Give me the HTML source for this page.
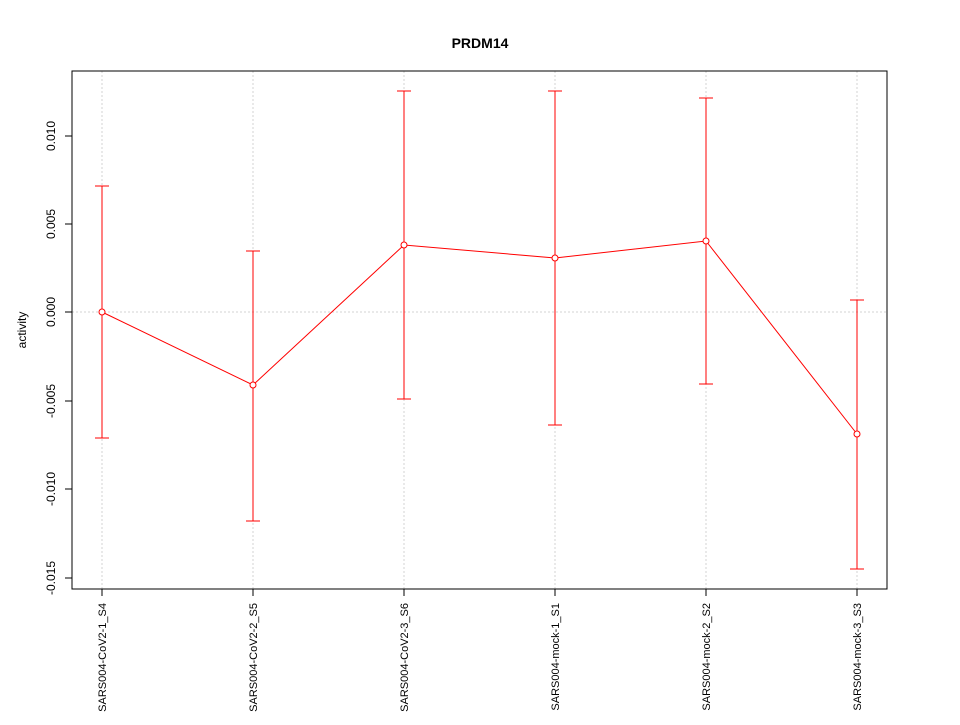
<!DOCTYPE html>
<html><head><meta charset="utf-8"><style>body{margin:0;background:#fff}</style></head>
<body>
<svg width="960" height="720" xmlns="http://www.w3.org/2000/svg" font-family="Liberation Sans, sans-serif">
<rect width="960" height="720" fill="#fff"/>
<text x="480" y="48" text-anchor="middle" font-weight="bold" font-size="14">PRDM14</text>
<g stroke="#d3d3d3" stroke-dasharray="2,2" stroke-width="1">
<line x1="102" y1="71" x2="102" y2="589"/><line x1="253" y1="71" x2="253" y2="589"/>
<line x1="404" y1="71" x2="404" y2="589"/><line x1="555" y1="71" x2="555" y2="589"/>
<line x1="706" y1="71" x2="706" y2="589"/><line x1="857" y1="71" x2="857" y2="589"/>
<line x1="72" y1="312" x2="887" y2="312"/>
</g>
<rect x="72" y="71" width="815" height="518" fill="none" stroke="#000"/>
<g stroke="#000">
<line x1="72" y1="136" x2="65" y2="136"/><line x1="72" y1="224" x2="65" y2="224"/>
<line x1="72" y1="312" x2="65" y2="312"/><line x1="72" y1="401" x2="65" y2="401"/>
<line x1="72" y1="489" x2="65" y2="489"/><line x1="72" y1="578" x2="65" y2="578"/>
<line x1="102" y1="589" x2="102" y2="596"/><line x1="253" y1="589" x2="253" y2="596"/>
<line x1="404" y1="589" x2="404" y2="596"/><line x1="555" y1="589" x2="555" y2="596"/>
<line x1="706" y1="589" x2="706" y2="596"/><line x1="857" y1="589" x2="857" y2="596"/>
</g>
<g font-size="12" text-anchor="middle">
<text transform="translate(55,136) rotate(-90)">0.010</text>
<text transform="translate(55,224) rotate(-90)">0.005</text>
<text transform="translate(55,312) rotate(-90)">0.000</text>
<text transform="translate(55,401) rotate(-90)">-0.005</text>
<text transform="translate(55,489) rotate(-90)">-0.010</text>
<text transform="translate(55,578) rotate(-90)">-0.015</text>
<text transform="translate(26,330) rotate(-90)">activity</text>
</g>
<g font-size="11" text-anchor="end">
<text transform="translate(106,603) rotate(-90)">SARS004-CoV2-1_S4</text>
<text transform="translate(257,603) rotate(-90)">SARS004-CoV2-2_S5</text>
<text transform="translate(408,603) rotate(-90)">SARS004-CoV2-3_S6</text>
<text transform="translate(559,603) rotate(-90)">SARS004-mock-1_S1</text>
<text transform="translate(710,603) rotate(-90)">SARS004-mock-2_S2</text>
<text transform="translate(861,603) rotate(-90)">SARS004-mock-3_S3</text>
</g>
<g stroke="#ff0000" fill="none" stroke-width="1">
<line x1="102" y1="186" x2="102" y2="438"/><line x1="95" y1="186" x2="109" y2="186"/><line x1="95" y1="438" x2="109" y2="438"/>
<line x1="253" y1="251" x2="253" y2="521"/><line x1="246" y1="251" x2="260" y2="251"/><line x1="246" y1="521" x2="260" y2="521"/>
<line x1="404" y1="91" x2="404" y2="399"/><line x1="397" y1="91" x2="411" y2="91"/><line x1="397" y1="399" x2="411" y2="399"/>
<line x1="555" y1="91" x2="555" y2="425"/><line x1="548" y1="91" x2="562" y2="91"/><line x1="548" y1="425" x2="562" y2="425"/>
<line x1="706" y1="98" x2="706" y2="384"/><line x1="699" y1="98" x2="713" y2="98"/><line x1="699" y1="384" x2="713" y2="384"/>
<line x1="857" y1="300" x2="857" y2="569"/><line x1="850" y1="300" x2="864" y2="300"/><line x1="850" y1="569" x2="864" y2="569"/>
<polyline points="102,312 253,385 404,245 555,258 706,241 857,434"/>
<circle cx="102" cy="312" r="3" fill="#fff"/><circle cx="253" cy="385" r="3" fill="#fff"/>
<circle cx="404" cy="245" r="3" fill="#fff"/><circle cx="555" cy="258" r="3" fill="#fff"/>
<circle cx="706" cy="241" r="3" fill="#fff"/><circle cx="857" cy="434" r="3" fill="#fff"/>
</g>
</svg>
</body></html>
